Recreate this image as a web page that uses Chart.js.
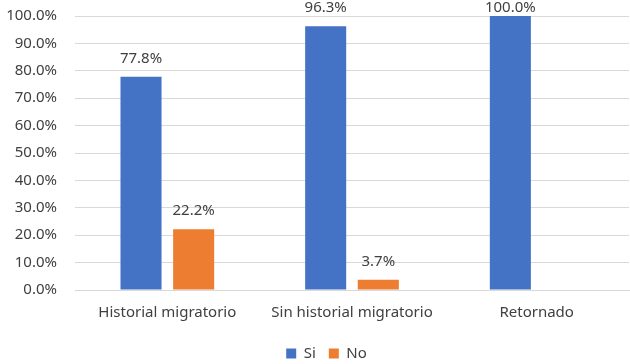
<!DOCTYPE html>
<html>
<head>
<meta charset="utf-8">
<script src="https://cdn.jsdelivr.net/npm/chart.js@4/dist/chart.umd.min.js"></script>
<style>
  html, body { margin: 0; padding: 0; background: #fff; }
  #wrap { width: 630px; height: 364px; }
</style>
</head>
<body>
<div id="wrap"><canvas id="chart"></canvas></div>
<script>
// data
const categories = ["Historial migratorio", "Sin historial migratorio", "Retornado"];
const siValues = [77.8, 96.3, 100.0];
const noValues = [22.2, 3.7, 0];
const seriesNames = ["Si", "No"];
const yTicks = [0, 10, 20, 30, 40, 50, 60, 70, 80, 90, 100];

const FONT = "'Noto Sans', 'Open Sans', sans-serif";

// simple value labels on top of bars (no datalabels plugin available)
// kept inside the canvas like Excel does for the tallest bars
const barLabels = {
    id: "barLabels",
    afterLayout(chart) {
        // legend sits a bit right of the canvas centre in the reference
        if (chart.legend) {
            chart.legend.left += 12;
            chart.legend.right += 12;
        }
    },
    afterDatasetsDraw(chart) {
        const ctx = chart.ctx;
        ctx.save();
        ctx.font = "15px " + FONT;
        ctx.fillStyle = "#404040";
        ctx.textAlign = "center";
        ctx.textBaseline = "middle";
        chart.data.datasets.forEach((ds, i) => {
            chart.getDatasetMeta(i).data.forEach((bar, j) => {
                const v = ds.data[j];
                if (!v) return;
                ctx.fillText(v.toFixed(1) + "%", bar.x, Math.max(bar.y - 18, 8));
            });
        });
        ctx.restore();
    }
};

new Chart(document.getElementById("chart"), {
    type: "bar",
    data: {
        labels: categories,
        datasets: [
            { label: seriesNames[0], data: siValues, backgroundColor: "#4472C4" },
            { label: seriesNames[1], data: noValues, backgroundColor: "#ED7D31" },
        ],
    },
    options: {
        responsive: true,
        maintainAspectRatio: false,
        animation: false,
        datasets: { bar: { categoryPercentage: 0.57, barPercentage: 0.78 } },
        layout: { padding: { top: 16, right: 1, left: 0, bottom: -7 } },
        scales: {
            x: {
                grid: { display: false, drawTicks: false },
                border: { color: "#d9d9d9" },
                afterFit: (scale) => { scale.height = 43; },
                ticks: { color: "#404040", font: { family: FONT, size: 15 }, padding: 14 },
            },
            y: {
                min: 0,
                max: 100,
                afterBuildTicks: (scale) => { scale.ticks = yTicks.map(v => ({ value: v })); },
                afterFit: (scale) => {
                    scale.width = 75;
                    scale.paddingTop = 9;
                    scale.paddingBottom = 9;
                },
                grid: { color: "#d9d9d9", drawTicks: false },
                border: { display: false },
                ticks: {
                    color: "#404040",
                    font: { family: FONT, size: 15 },
                    padding: 18,
                    callback: (v) => v.toFixed(1) + "%",
                },
            },
        },
        plugins: {
            legend: {
                position: "bottom",
                labels: {
                    color: "#404040",
                    font: { family: FONT, size: 15 },
                    boxWidth: 10,
                    boxHeight: 10,
                    padding: 13,
                },
            },
            tooltip: { enabled: false },
        },
    },
    plugins: [barLabels],
});
</script>
</body>
</html>
